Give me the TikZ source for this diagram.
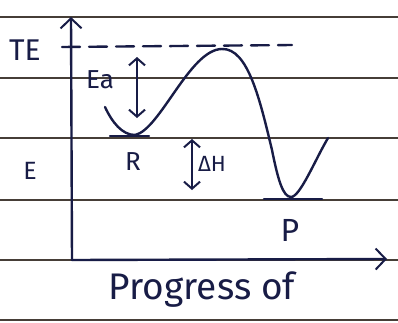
\documentclass[tikz,border=0pt]{standalone}
\usepackage{fontspec}
\setmainfont{Fira Sans}
\usetikzlibrary{arrows.meta}
\definecolor{ink}{RGB}{24,28,70}
\definecolor{rule}{RGB}{70,62,55}

\begin{document}
\begin{tikzpicture}[x=1pt,y=-1pt,
  ink line/.style={ink,line width=2.4pt,line cap=round},
  barb/.style={-{Straight Barb[length=10pt,width=21pt,line width=2pt]}},
  twohead/.style={{Straight Barb[length=7pt,width=16pt,line width=2pt]}-{Straight Barb[length=7pt,width=16pt,line width=2pt]}},
  label/.style={ink,inner sep=0pt}]
  \useasboundingbox[fill=white] (0,0) rectangle (398,322);
  % --- ruled paper ---
  \foreach \yy in {17,78,138,200,260,320}
    \draw[rule,line width=1.1pt] (0,\yy) -- (398,\yy);
  % --- axes ---
  \coordinate (origin) at (72,260);
  \coordinate (ytip) at (71,17);
  \coordinate (xtip) at (387,259);
  \draw[ink line,barb] (origin) -- (ytip);
  \draw[ink line,barb] (origin) -- (xtip);
  % --- total energy level ---
  \draw[ink line,dash pattern=on 18pt off 9pt] (62,47) -- (292,45);
  % --- energy curve ---
  \draw[ink line] (105,107) .. controls (112,122) and (122,135) .. (135,135)
    .. controls (160,130) and (190,49) .. (222,49)
    .. controls (248,48) and (260,100) .. (272,150)
    .. controls (278,180) and (283,197) .. (291,197)
    .. controls (300,197) and (315,160) .. (328,138);
  % --- levels of R and P ---
  \draw[ink line] (110,136) -- (149,136);
  \draw[ink line] (264,199) -- (322,199);
  % --- Ea and dH ---
  \coordinate (eatop) at (137,57);
  \coordinate (eabot) at (137,118);
  \draw[ink line,twohead] (eatop) -- (eabot);
  \coordinate (dhtop) at (192,139);
  \coordinate (dhbot) at (192,190);
  \draw[ink line,twohead] (dhtop) -- (dhbot);
  % --- labels ---
  \node[label,font=\fontsize{30}{30}\selectfont] (te) at (25,50) {TE};
  \node[label,font=\fontsize{26}{26}\selectfont] (ea) at (100,80) {Ea};
  \node[label,font=\fontsize{26}{26}\selectfont] (r) at (133,162) {R};
  \node[label,font=\fontsize{22}{22}\selectfont] (dh) at (212,164) {ΔH};
  \node[label,font=\fontsize{25}{25}\selectfont] (e) at (30,171) {E};
  \node[label,font=\fontsize{32}{32}\selectfont] (p) at (290,230) {P};
  \node[label,font=\fontsize{37}{37}\selectfont] (progress) at (202,290) {Progress of};
\end{tikzpicture}
\end{document}
